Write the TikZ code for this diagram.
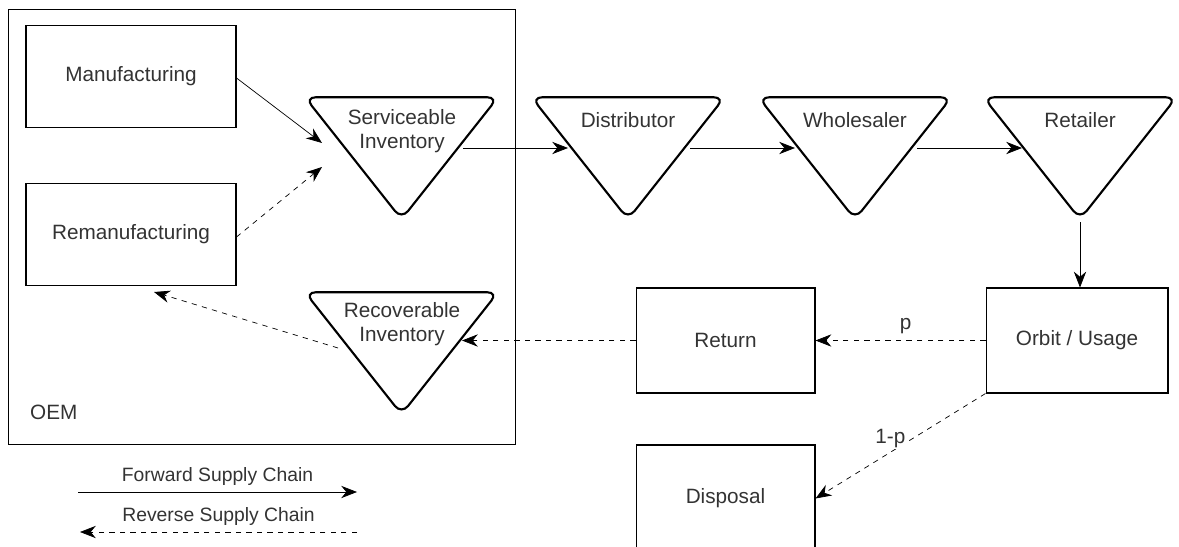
\documentclass[tikz,border=0pt]{standalone}
\usepackage{fontspec}
\setmainfont{Liberation Sans}
\usetikzlibrary{arrows.meta,shapes.geometric}
\tikzset{
  box/.style={draw,semithick,minimum width=4.2cm,minimum height=2.04cm,inner sep=0pt},
  stock/.style={draw,very thick,isosceles triangle,shape border rotate=270,
    isosceles triangle stretches,minimum width=3.86cm,minimum height=2.44cm,
    rounded corners=6pt,inner sep=0pt},
  txt/.style={text=black!80,font=\fontsize{11.8}{14}\selectfont,align=center},
  small/.style={txt,font=\fontsize{11}{13}\selectfont},
  fwd/.style={-{Stealth[length=9pt,width=7pt]}},
  rev/.style={fwd,dashed},
}
\begin{document}
\begin{tikzpicture}[x=0.02cm,y=-0.02cm]
	%% frame
	\useasboundingbox (0,0) rectangle (1179,547);
	\node[draw,minimum width=10.14cm,minimum height=8.7cm] (oem) at (261.5,226.5) {};
	\node[txt,anchor=west] (oemlbl) at (24,412) {OEM};
	%% OEM side
	\node[box] (manu) at (131,76.5) {};
	\node[txt] at (manu) {Manufacturing};
	\node[box] (reman) at (131,234.5) {};
	\node[txt] at (reman) {Remanufacturing};
	\node[stock] (sinv) at (401.5,144) {};
	\node[txt] at (402,131) {Serviceable\\Inventory};
	\node[stock] (rinv) at (401.5,339) {};
	\node[txt] at (402,324) {Recoverable\\Inventory};
	%% forward chain
	\node[stock] (dist) at (628,144) {};
	\node[txt] at (628,120) {Distributor};
	\node[stock] (whole) at (855,144) {};
	\node[txt] at (855,120) {Wholesaler};
	\node[stock] (retail) at (1080,144) {};
	\node[txt] at (1080,120) {Retailer};
	%% reverse side
	\node[box,minimum width=3.64cm,minimum height=2.1cm] (orbit) at (1077,340.5) {};
	\node[txt] at (orbit) {Orbit / Usage};
	\node[box,minimum width=3.58cm,minimum height=2.1cm] (ret) at (725.5,340.5) {};
	\node[txt] at (ret) {Return};
	\node[box,minimum width=3.58cm,minimum height=2.14cm] (disp) at (725.5,498.5) {};
	\node[txt] at (disp) {Disposal};
	%% connectors
	\draw[fwd] (manu.east |- 0,78) -- (322,143);
	\draw[rev] (reman.east |- 0,237) -- (322,167);
	\draw[fwd] (463,148) -- (568,148);
	\draw[fwd] (690,148) -- (795,148);
	\draw[fwd] (917,148) -- (1022,148);
	\draw[fwd] (retail.south) -- (orbit.north -| retail.south);
	\draw[rev] (orbit.west) -- node[txt,above,pos=0.47] {p} (ret.east);
	\draw[rev] (ret.west) -- (462,340.5);
	\draw[rev] (338,348) -- (154,292);
	\draw[rev] (orbit.south west) -- node[txt,pos=0.56,yshift=0.28cm,fill=white,inner sep=1pt] {1-p} (disp.east);
	%% legend
	\draw[fwd] (78,492) -- node[small,above] {Forward Supply Chain} (357,492);
	\draw[rev] (357,532) -- node[small,above] {Reverse Supply Chain} (80,532);
\end{tikzpicture}
\end{document}
